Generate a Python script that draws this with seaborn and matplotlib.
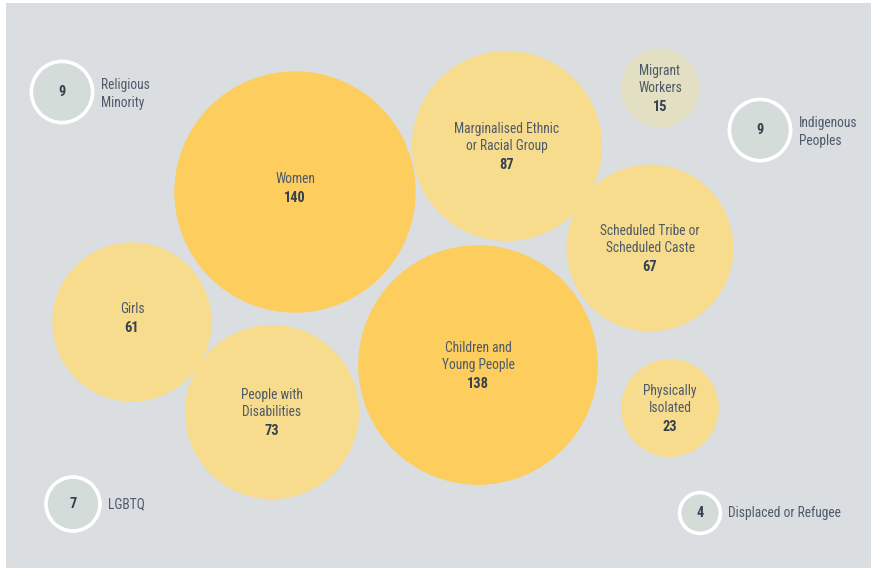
import matplotlib
matplotlib.use("Agg")
import matplotlib.pyplot as plt
from matplotlib import font_manager
from matplotlib.patches import Rectangle
import seaborn as sns
import pandas as pd

# ---- data ----
groups = ["Religious\nMinority", "Women", "Marginalised Ethnic\nor Racial Group",
          "Migrant\nWorkers", "Indigenous\nPeoples", "Scheduled Tribe or\nScheduled Caste",
          "Girls", "People with\nDisabilities", "Children and\nYoung People",
          "Physically\nIsolated", "LGBTQ", "Displaced or Refugee"]
counts = [9, 140, 87, 15, 9, 67, 61, 73, 138, 23, 7, 4]
kinds = ["small", "major", "mid", "minor", "small", "mid",
         "mid", "mid", "major", "mid", "small", "small"]

# ---- layout (pixel positions of bubble centres) ----
pos_x = [62, 295, 507, 660, 760, 650, 132, 272, 478, 670, 73, 700]
pos_y = [92, 192, 146, 88, 130, 248, 322, 412, 365, 408, 504, 513]

df = pd.DataFrame({"group": groups, "count": counts, "kind": kinds,
                   "x": pos_x, "y": pos_y})

sns.set_theme(style="white")

# pick a condensed font if one is installed
cands = []
for f in font_manager.fontManager.ttflist:
    fn = f.fname.lower()
    if ("narrow" in fn or "condensed" in fn) and "oblique" not in fn and "italic" not in fn:
        cands.append(f)
def score(f):
    fn = f.fname.lower()
    s = 0
    if "liberationsansnarrow" in fn.replace("-", ""): s += 10
    if "roboto" in fn: s += 8
    if "dejavusanscondensed" in fn.replace("-", ""): s += 5
    return s
reg = [f for f in cands if "bold" not in f.fname.lower()]
bld = [f for f in cands if "bold" in f.fname.lower()]
reg.sort(key=score, reverse=True)
bld.sort(key=score, reverse=True)
if reg:
    fp_reg = font_manager.FontProperties(fname=reg[0].fname)
    base = reg[0].fname.lower().split("/")[-1].split("-")[0].split(".")[0][:10]
    bmatch = [f for f in bld if f.fname.lower().split("/")[-1].startswith(base[:6])]
    fp_bold = font_manager.FontProperties(fname=bmatch[0].fname) if bmatch else \
        font_manager.FontProperties(fname=reg[0].fname, weight="bold")
else:
    fp_reg = font_manager.FontProperties(family="Liberation Sans")
    fp_bold = font_manager.FontProperties(family="Liberation Sans", weight="bold")

W, H, DPI = 874, 570, 100
fig = plt.figure(figsize=(W / DPI, H / DPI), dpi=DPI)
fig.patch.set_facecolor("white")
ax = fig.add_axes([0, 0, 1, 1])
ax.set_xlim(0, W)
ax.set_ylim(H, 0)
ax.axis("off")

ax.add_patch(Rectangle((6, 3), 865, 565, facecolor="#dadee1", edgecolor="none", zorder=0))

palette = {"major": "#fdcd5e", "mid": "#f7dc8e", "minor": "#e2dfc2", "small": "#d3dcd9"}
# area proportional to count: radius_px = 10.2*sqrt(count)
k = (2 * 10.2 * 72 / DPI) ** 2
vmin, vmax = min(counts), max(counts)

big = df[df.kind != "small"]
small = df[df.kind == "small"]
sns.scatterplot(data=big, x="x", y="y", hue="kind", palette=palette,
                size="count", sizes=(k * vmin, k * vmax), size_norm=(vmin, vmax),
                linewidth=0, legend=False, ax=ax, zorder=2)
sns.scatterplot(data=small, x="x", y="y", hue="kind", palette=palette,
                size="count", sizes=(k * vmin, k * vmax), size_norm=(vmin, vmax),
                edgecolor="white", linewidth=2.6, legend=False, ax=ax, zorder=2)
ax.set_xlim(0, W)
ax.set_ylim(H, 0)
ax.set_xlabel("")
ax.set_ylabel("")

# choose a font size so that "Marginalised Ethnic" is ~104 px wide
renderer = fig.canvas.get_renderer()
probe = ax.text(0, 0, "Marginalised Ethnic", fontproperties=fp_reg, fontsize=10)
wpx = probe.get_window_extent(renderer).width
probe.remove()
fs = max(7.0, min(11.5, 10 * 105.0 / wpx))
fp_reg.set_size(fs)
fp_bold.set_size(fs + 0.6)

lab_c = "#4e5a6a"
num_c = "#36404e"

for _, r in df.iterrows():
    nlines = r.group.count("\n") + 1
    if r.kind == "small":
        ax.text(r.x, r.y, str(r["count"]), ha="center", va="center",
                fontproperties=fp_bold, color=num_c, zorder=3)
        rad = 10.2 * (r["count"] ** 0.5)
        ax.text(r.x + rad + 8, r.y + (2 if nlines > 1 else 0), r.group, ha="left",
                va="center", fontproperties=fp_reg, color=lab_c,
                linespacing=1.3, zorder=3)
    else:
        lines = r.group.split("\n")
        if nlines == 1:
            ys = [r.y - 13]
            yn = r.y + 6
        else:
            ys = [r.y - 17, r.y]
            yn = r.y + 19
        for ln, yy in zip(lines, ys):
            ax.text(r.x, yy, ln, ha="center", va="center",
                    fontproperties=fp_reg, color=lab_c, zorder=3)
        ax.text(r.x, yn, str(r["count"]), ha="center", va="center",
                fontproperties=fp_bold, color=num_c, zorder=3)

fig.savefig("out.png", dpi=DPI, facecolor="white")
